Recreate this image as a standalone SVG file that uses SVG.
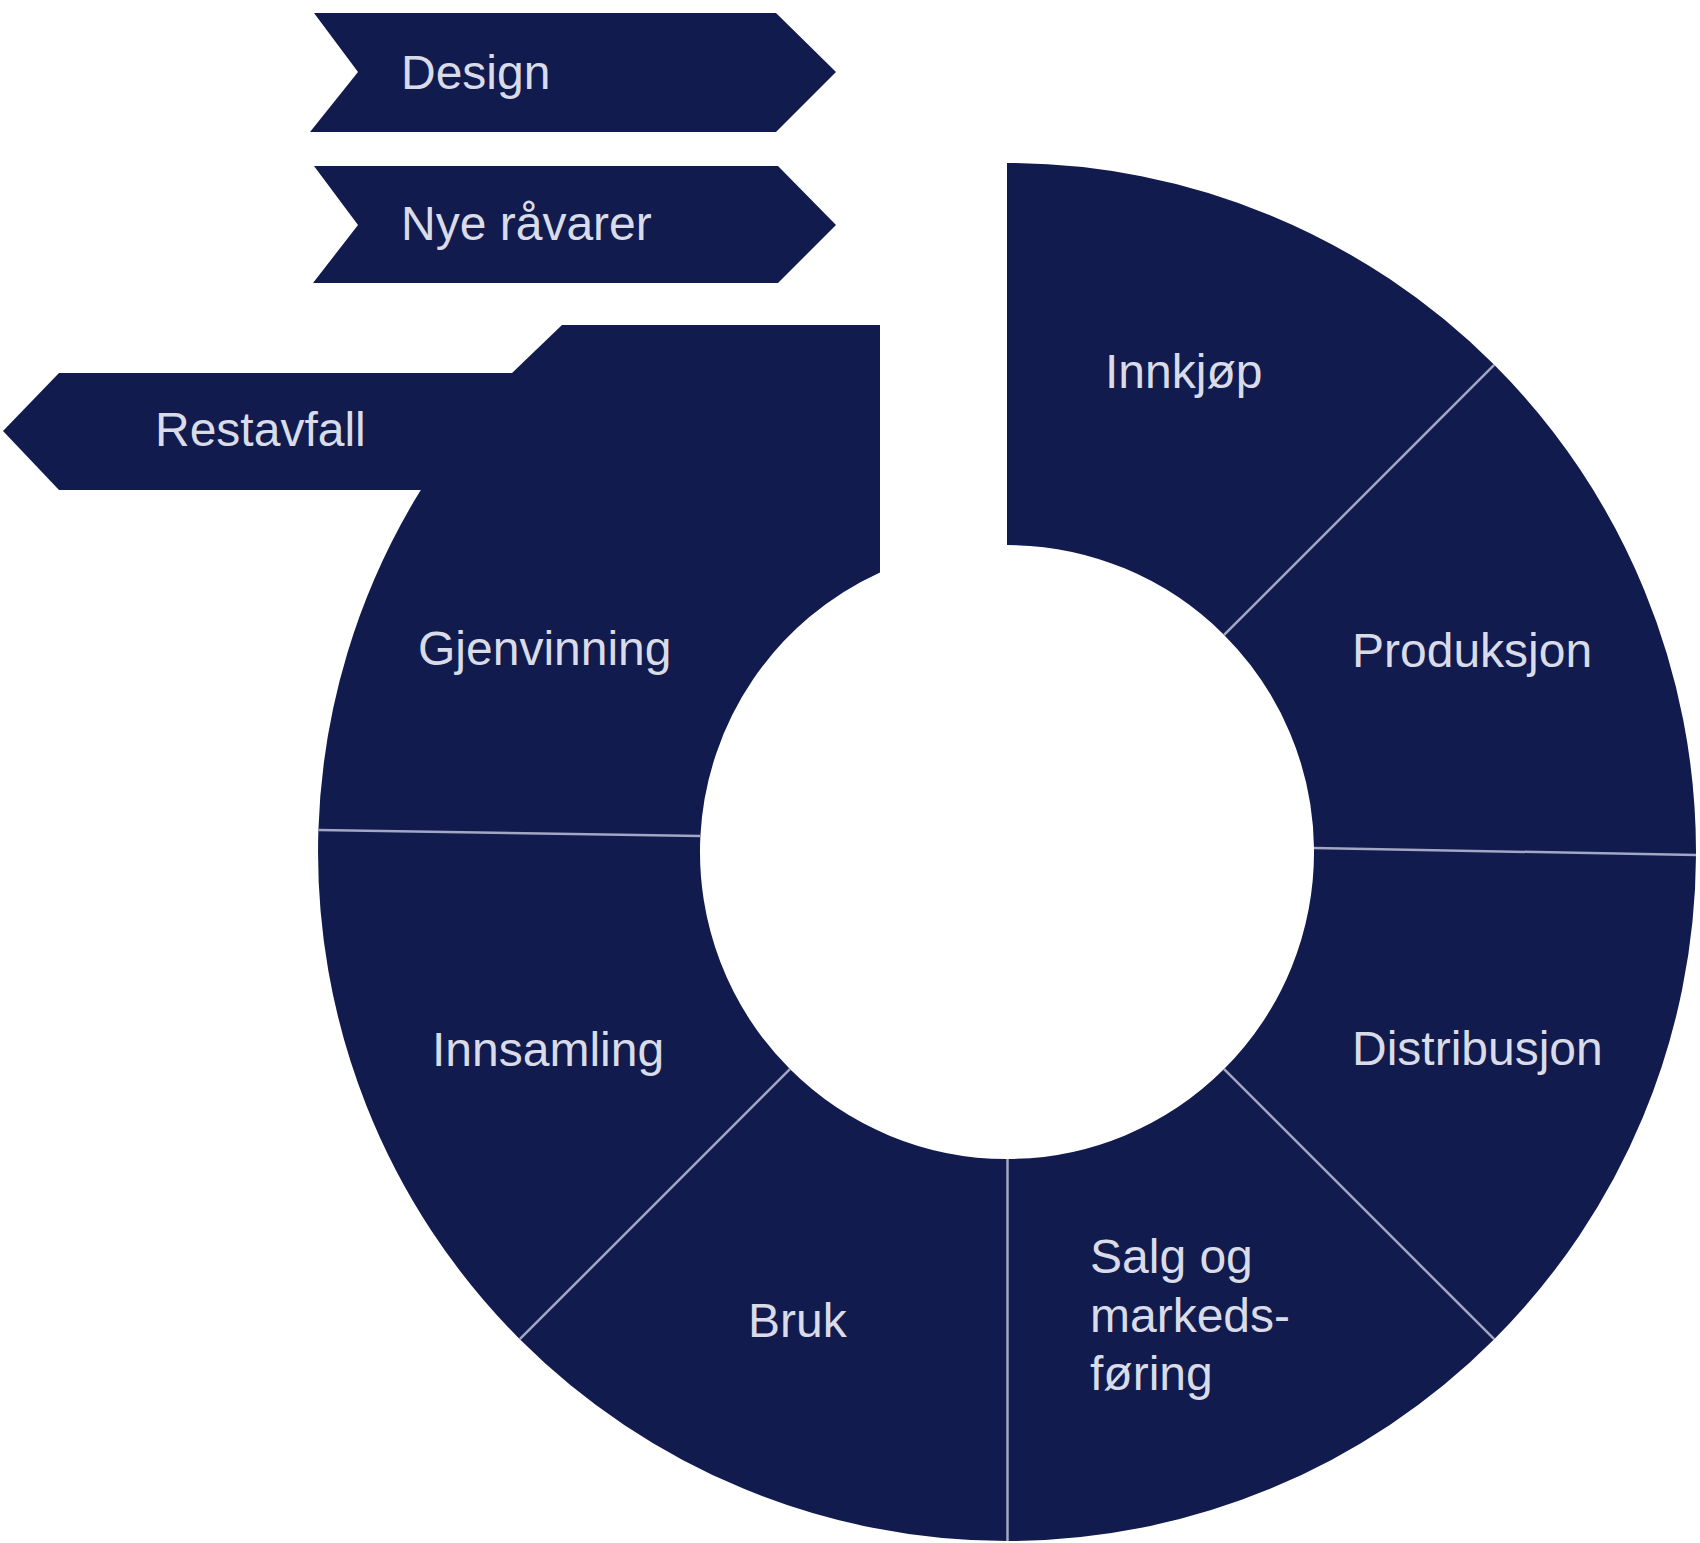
<svg xmlns="http://www.w3.org/2000/svg" width="1700" height="1543" viewBox="0 0 1700 1543">
  <style>
    .seg { fill: #121b4d; stroke: none; }
    .lbl { font-family: "Liberation Sans", Arial, sans-serif; font-size: 48px; fill: #d9dce8; }
    .div { stroke: #a2a7c4; stroke-width: 2.5; fill: none; }
  </style>
  <rect x="0" y="0" width="1700" height="1543" fill="#ffffff"/>

  <g id="design">
    <polygon class="seg" points="314,13 776,13 836,72 776,132 310,132 358,72"/>
    <text class="lbl" x="401" y="89">Design</text>
  </g>
  <g id="nye-ravarer">
    <polygon class="seg" points="314,166 778,166 836,225 778,283 313,283 358,225"/>
    <text class="lbl" x="401" y="240">Nye råvarer</text>
  </g>

  <g id="restavfall">
    <polygon class="seg" points="59,373 520,373 520,490 59,490 3,431"/>
    <text class="lbl" x="155" y="446">Restavfall</text>
  </g>

  <g id="gjenvinning">
    <path class="seg" d="M 318.4,830 A 689 689 0 0 1 420.8,490 L 500,490 L 500,373 L 512,373 L 562,325 L 880,325 L 880,572.5 A 307 307 0 0 0 700.4,836 Z"/>
    <text class="lbl" x="418" y="665">Gjenvinning</text>
  </g>

  <g id="innkjop">
    <path class="seg" d="M 1007,163 A 689 689 0 0 1 1494.2,364.8 L 1224.1,634.9 A 307 307 0 0 0 1007,545 Z"/>
    <text class="lbl" x="1105" y="388">Innkjøp</text>
  </g>
  <g id="produksjon">
    <path class="seg" d="M 1494.2,364.8 A 689 689 0 0 1 1696,855 L 1314,848 A 307 307 0 0 0 1224.1,634.9 Z"/>
    <text class="lbl" x="1352" y="667">Produksjon</text>
  </g>
  <g id="distribusjon">
    <path class="seg" d="M 1696,855 A 689 689 0 0 1 1494.2,1339.2 L 1224.1,1069.1 A 307 307 0 0 0 1314,848 Z"/>
    <text class="lbl" x="1352" y="1065">Distribusjon</text>
  </g>
  <g id="salg">
    <path class="seg" d="M 1494.2,1339.2 A 689 689 0 0 1 1007,1541 L 1007,1159 A 307 307 0 0 0 1224.1,1069.1 Z"/>
    <text class="lbl" x="1090" y="1273">Salg og</text>
    <text class="lbl" x="1090" y="1332">markeds-</text>
    <text class="lbl" x="1090" y="1390">føring</text>
  </g>
  <g id="bruk">
    <path class="seg" d="M 1007,1541 A 689 689 0 0 1 519.8,1339.2 L 789.9,1069.1 A 307 307 0 0 0 1007,1159 Z"/>
    <text class="lbl" x="748" y="1337">Bruk</text>
  </g>
  <g id="innsamling">
    <path class="seg" d="M 519.8,1339.2 A 689 689 0 0 1 318.4,830 L 700.4,836 A 307 307 0 0 0 789.9,1069.1 Z"/>
    <text class="lbl" x="432" y="1066">Innsamling</text>
  </g>

  <g id="connectors">
    <line class="div" x1="1224.1" y1="634.9" x2="1494.2" y2="364.8"/>
    <line class="div" x1="1314" y1="848" x2="1696" y2="855"/>
    <line class="div" x1="1224.1" y1="1069.1" x2="1494.2" y2="1339.2"/>
    <line class="div" x1="1007.5" y1="1159" x2="1007.5" y2="1541"/>
    <line class="div" x1="789.9" y1="1069.1" x2="519.8" y2="1339.2"/>
    <line class="div" x1="318.4" y1="830" x2="700.4" y2="836"/>
  </g>
</svg>
